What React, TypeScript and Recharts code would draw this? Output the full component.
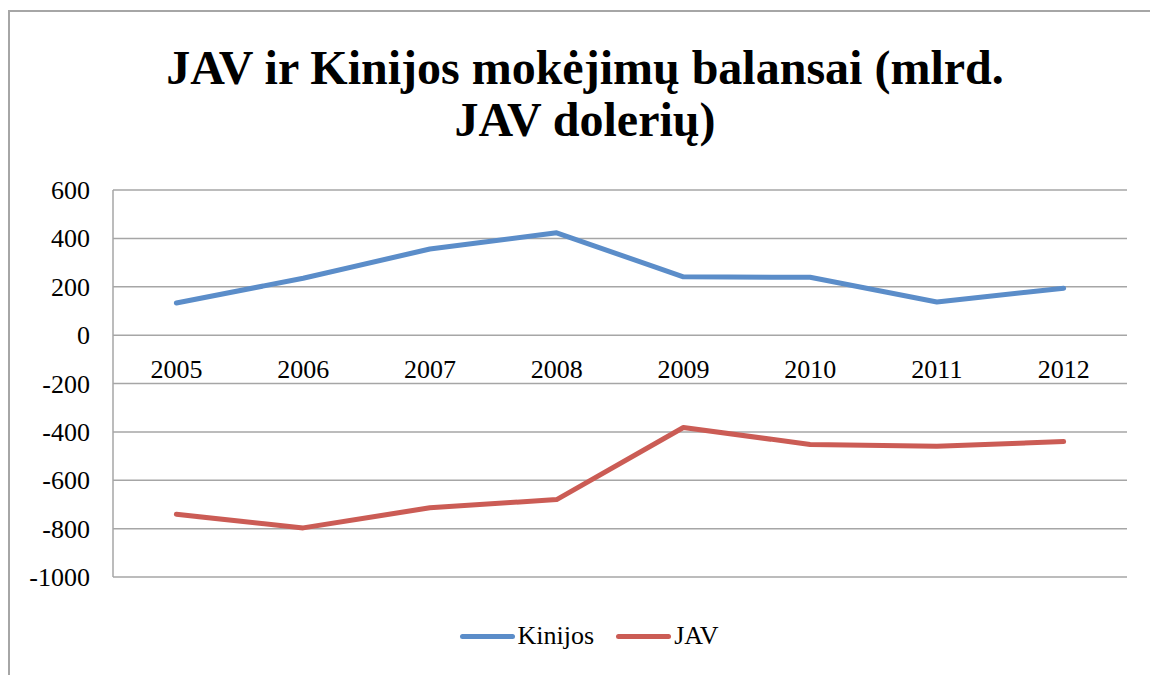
import React from 'react';
import { LineChart, Line, XAxis, YAxis, CartesianGrid, Legend } from 'recharts';

const years = ['2005', '2006', '2007', '2008', '2009', '2010', '2011', '2012'];
const kinijos = [133, 235, 356, 423, 241, 239, 137, 194];
const jav = [-741, -797, -714, -680, -382, -452, -459, -440];
const baseline = [0, 0, 0, 0, 0, 0, 0, 0];
const yTicks = [-1000, -800, -600, -400, -200, 0, 200, 400, 600];
const seriesKeys = ['kinijos', 'jav'];
const seriesNames = ['Kinijos', 'JAV'];
const seriesColors = ['#5B8DC9', '#CB5C55'];
const titleLines = ['JAV ir Kinijos mokėjimų balansai (mlrd.', 'JAV dolerių)'];

const data = years.map((y, i) => ({ year: y, kinijos: kinijos[i], jav: jav[i], base: baseline[i] }));

const FONT = '"Liberation Serif", "Times New Roman", serif';
const GRID = '#a6a6a6';

const YearLabel = (props: any) => {
  const { cx, cy, payload, index } = props;
  if (cx == null || cy == null) return null;
  return (
    <text key={`yl-${index}`} x={cx} y={cy + 43} textAnchor="middle" fill="#000" style={{ fontSize: 26, fontFamily: FONT }}>
      {payload.year}
    </text>
  );
};

const YTick = (props: any) => {
  const { x, y, payload } = props;
  return (
    <text x={x} y={y} dy={9} textAnchor="end" fill="#000" style={{ fontSize: 26, fontFamily: FONT }}>
      {payload.value}
    </text>
  );
};

const LegendContent = () => (
  <div style={{ display: 'flex', justifyContent: 'center', alignItems: 'center', height: 30, paddingLeft: 18, fontFamily: FONT, fontSize: 26, color: '#000' }}>
    {seriesNames.map((n, i) => (
      <div key={n} style={{ display: 'flex', alignItems: 'center', marginRight: i < seriesNames.length - 1 ? 22 : 0 }}>
        <div style={{ width: 55, height: 5, borderRadius: 3, background: seriesColors[i], marginRight: 3 }} />
        <span>{n}</span>
      </div>
    ))}
  </div>
);

export default function App() {
  return (
    <div
      style={{
        position: 'fixed',
        left: 8,
        top: 10,
        width: 1142,
        height: 665,
        borderLeft: `2px solid ${GRID}`,
        borderTop: `2px solid ${GRID}`,
        boxSizing: 'border-box',
        background: '#fff',
        fontFamily: FONT,
      }}
    >
      <div
        style={{
          position: 'absolute',
          left: 0,
          top: 30,
          width: 1140,
          paddingLeft: 10,
          boxSizing: 'border-box',
          textAlign: 'center',
          fontFamily: FONT,
          fontWeight: 'bold',
          fontSize: 48,
          lineHeight: '52px',
          color: '#000',
          zIndex: 2,
        }}
      >
        {titleLines.map((t, i) => (
          <div key={i}>{t}</div>
        ))}
      </div>
      <LineChart
        width={1140}
        height={663}
        data={data}
        margin={{ top: 178, right: 23, left: 0, bottom: 68 }}
        style={{ fontFamily: FONT }}
      >
        <CartesianGrid vertical={false} stroke={GRID} strokeWidth={1.5} />
        <XAxis dataKey="year" type="category" scale="band" hide />
        <YAxis
          type="number"
          domain={[-1000, 600]}
          ticks={yTicks}
          interval={0}
          width={103}
          tickSize={0}
          tickMargin={23}
          tickLine={false}
          axisLine={{ stroke: GRID, strokeWidth: 1.5 }}
          tick={YTick}
        />
        <Line
          dataKey="base"
          name="base"
          stroke="none"
          legendType="none"
          dot={YearLabel}
          activeDot={false}
          isAnimationActive={false}
        />
        {seriesKeys.map((k, i) => (
          <Line
            key={k}
            dataKey={k}
            name={seriesNames[i]}
            stroke={seriesColors[i]}
            strokeWidth={5}
            strokeLinecap="round"
            strokeLinejoin="round"
            dot={false}
            activeDot={false}
            isAnimationActive={false}
          />
        ))}
        <Legend
          content={LegendContent}
          wrapperStyle={{ position: 'absolute', top: 609, left: 0, width: 1140, height: 30 }}
        />
      </LineChart>
    </div>
  );
}
